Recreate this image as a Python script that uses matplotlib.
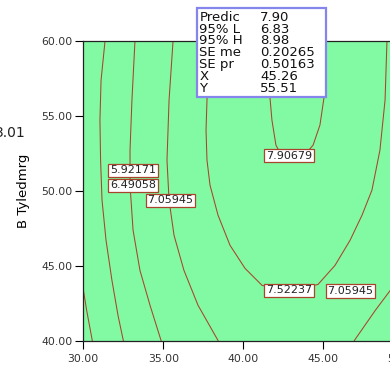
import matplotlib
matplotlib.use("Agg")
import matplotlib.pyplot as plt
from matplotlib.patches import Rectangle

# axis ranges / ticks
x_ticks = [30.0, 35.0, 40.0, 45.0, 50.0]
y_ticks = [40.0, 45.0, 50.0, 55.0, 60.0]
y_label = "B Tyledmrg"
side_value = "3.01"

# contour lines (x, y in data units)
c1_x = [29.9, 30.0, 30.21, 30.56]
c1_y = [44.0, 43.4, 42.01, 40.0]

c2_x = [31.36, 31.11, 31.04, 31.08, 31.17, 31.42, 31.79, 32.17, 32.50]
c2_y = [60.0, 57.37, 54.70, 52.03, 49.36, 46.69, 44.01, 41.67, 40.0]

c3_x = [33.23, 33.04, 32.92, 32.92, 33.11, 33.54, 34.17, 34.86]
c3_y = [60.0, 56.04, 52.70, 50.36, 47.36, 44.68, 42.35, 40.0]

c4_x = [35.61, 35.36, 35.23, 35.36, 35.67, 36.29, 37.17, 38.42]
c4_y = [60.0, 56.04, 52.03, 49.36, 47.02, 44.68, 42.35, 40.0]

c5_x = [37.79, 37.73, 37.67, 37.73, 37.92, 38.42, 39.17, 40.11, 41.17, 42.86,
        44.67, 45.73, 46.67, 47.42, 48.04, 48.54, 48.86, 48.98]
c5_y = [60.0, 56.04, 54.03, 52.03, 50.36, 48.36, 46.35, 44.81, 43.68, 43.28,
        43.74, 45.01, 46.68, 48.36, 50.03, 52.70, 56.04, 60.0]

c6_x = [41.6, 41.67, 41.79, 42.04, 42.48, 42.92, 43.54, 44.36, 44.79, 45.04, 45.1]
c6_y = [60.0, 56.17, 54.70, 53.03, 52.16, 51.90, 52.03, 53.03, 54.37, 56.17, 60.0]

c7_x = [50.0, 49.19, 48.25, 46.94]
c7_y = [44.68, 43.35, 42.01, 40.0]

contours = [(c1_x, c1_y), (c2_x, c2_y), (c3_x, c3_y), (c4_x, c4_y),
            (c5_x, c5_y), (c6_x, c6_y), (c7_x, c7_y)]

# contour labels
label_text = ["5.92171", "6.49058", "7.05945", "7.90679", "7.52237", "7.05945"]
label_x = [33.11, 33.11, 35.45, 42.86, 42.86, 46.70]
label_y = [51.36, 50.36, 49.36, 52.33, 43.35, 43.31]

# prediction flag
flag_names = ["Predic", "95% L", "95% H", "SE me", "SE pr", "X", "Y"]
flag_values = ["7.90", "6.83", "8.98", "0.20265", "0.50163", "45.26", "55.51"]

GREEN = "#82F9A3"
LINE = "#A8442C"

fig = plt.figure(figsize=(3.9, 3.65), dpi=100)
ax = fig.add_axes([0.2136, 0.0671, 0.8205, 0.8214])
ax.set_facecolor(GREEN)
ax.set_xlim(30, 50)
ax.set_ylim(40, 60)

for xs, ys in contours:
    ax.plot(xs, ys, color=LINE, lw=0.75, zorder=2)

for t, lx, ly in zip(label_text, label_x, label_y):
    ax.text(lx, ly, t, ha="center", va="center", fontsize=8, color="#222222",
            zorder=4,
            bbox=dict(boxstyle="square,pad=0.15", fc="white", ec=LINE, lw=0.9))

ax.set_xticks(x_ticks)
ax.set_yticks(y_ticks)
ax.set_xticklabels([f"{v:.2f}" for v in x_ticks])
ax.set_yticklabels([f"{v:.2f}" for v in y_ticks])
ax.tick_params(direction="out", length=5.8, width=0.8, labelsize=7.8,
               colors="black", labelcolor="#333333")
ax.tick_params(axis="x", pad=4)
ax.tick_params(axis="y", pad=2)
for s in ax.spines.values():
    s.set_color("#222222")
    s.set_linewidth(0.9)

ax.set_ylabel(y_label, fontsize=9.5, labelpad=8)
fig.text(25.5 / 390, 1 - 137 / 365, side_value, ha="right", va="baseline",
         fontsize=10, color="#222222")

# flag box
bx0, bx1, by0, by1 = 37.09, 45.15, 56.26, 62.18
rect = Rectangle((bx0, by0), bx1 - bx0, by1 - by0, fc="white", ec="#8585EE",
                 lw=1.6, clip_on=False, zorder=6)
ax.add_patch(rect)
row_y = [61.336 - i * 0.79 for i in range(len(flag_names))]
for name, val, ry in zip(flag_names, flag_values, row_y):
    for tx, s in ((37.25, name), (41.04, val)):
        t = ax.text(tx, ry, s, fontsize=9.5, color="#111111", va="baseline",
                    ha="left", zorder=7, clip_on=True)
        t.set_clip_path(rect)

fig.savefig("out.png", dpi=100, facecolor="white")
